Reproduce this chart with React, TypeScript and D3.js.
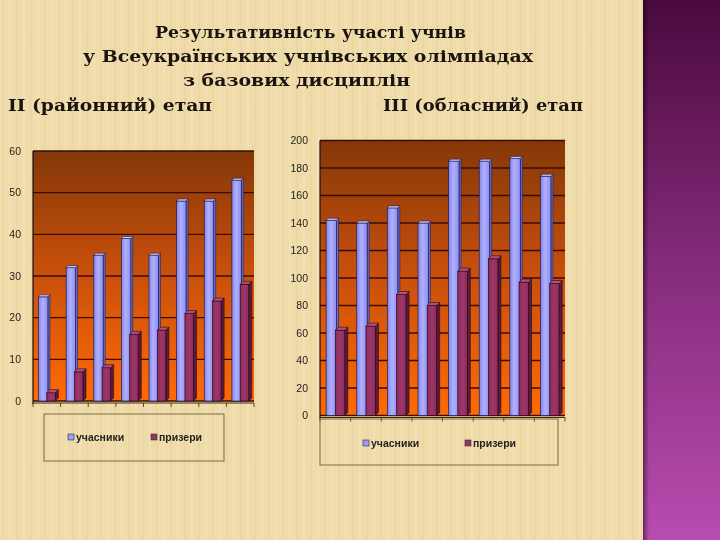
import React from "react";
import * as d3 from "d3";

const categories = ["1", "2", "3", "4", "5", "6", "7", "8"];
const leftParticipants = [25, 32, 35, 39, 35, 48, 48, 53];
const leftWinners = [2, 7, 8, 16, 17, 21, 24, 28];
const rightParticipants = [142, 140, 151, 140, 185, 185, 187, 174];
const rightWinners = [62, 65, 88, 80, 105, 114, 97, 96];
const leftTicks = [0, 10, 20, 30, 40, 50, 60];
const rightTicks = [0, 20, 40, 60, 80, 100, 120, 140, 160, 180, 200];
const seriesNames = ["учасники", "призери"];
const titleLines = [
  "Результативність участі учнів",
  "у Всеукраїнських учнівських олімпіадах",
  "з базових дисциплін",
];
const stageLabels = ["II (районний) етап", "III (обласний) етап"];

type ChartProps = {
  id: string;
  a: number[];
  b: number[];
  ticks: number[];
  max: number;
  left: number;
  right: number;
  top: number;
  bottom: number;
  legend: { x: number; y: number; w: number; h: number; t1: number; t2: number; ty: number };
};

function Bar3D({ x, w, y0, y1, d, side, topC, stroke, grad }: any) {
  return (
    <g>
      <polygon
        points={`${x + w},${y1} ${x + w + d},${y1 - d} ${x + w + d},${y0 - d} ${x + w},${y0}`}
        fill={side}
        stroke={stroke}
        strokeWidth={0.6}
      />
      <rect x={x} y={y1} width={w} height={Math.max(0, y0 - y1)} fill={grad} stroke={stroke} strokeWidth={0.7} />
      <polygon
        points={`${x},${y1} ${x + d},${y1 - d} ${x + w + d},${y1 - d} ${x + w},${y1}`}
        fill={topC}
        stroke={stroke}
        strokeWidth={0.6}
      />
    </g>
  );
}

function Chart({ id, a, b, ticks, max, left, right, top, bottom, legend }: ChartProps) {
  const y = d3.scaleLinear().domain([0, max]).range([bottom, top]);
  const x = d3.scaleBand<string>().domain(categories).range([left, right]).padding(0);
  const bw = x.bandwidth();
  return (
    <g>
      <rect x={left} y={top} width={right - left} height={bottom - top} fill={`url(#wall-${id})`} />
      {ticks.map((t) => (
        <line key={t} x1={left} x2={right} y1={y(t)} y2={y(t)} stroke="#3a0c00" strokeWidth={1.4} />
      ))}
      <line x1={left} x2={left} y1={top} y2={bottom + 3} stroke="#111" strokeWidth={1.2} />
      {categories.map((c, i) => {
        const x0 = x(c) as number;
        return (
          <g key={c}>
            <Bar3D
              x={x0 + bw * 0.2}
              w={bw * 0.34}
              y0={y(0)}
              y1={y(a[i])}
              d={2}
              side="#6f6fcc"
              topC="#d0d0ff"
              stroke="#1c1c55"
              grad="url(#blueGrad)"
            />
            <Bar3D
              x={x0 + bw * 0.5}
              w={bw * 0.31}
              y0={y(0)}
              y1={y(b[i])}
              d={3}
              side="#5e1a3c"
              topC="#b4507e"
              stroke="#2a0818"
              grad="url(#purpleGrad)"
            />
          </g>
        );
      })}
      <line x1={left} x2={right} y1={bottom + 2} y2={bottom + 2} stroke="#3a2a10" strokeWidth={1} />
      {d3.range(categories.length + 1).map((i) => (
        <line
          key={i}
          x1={left + i * bw}
          x2={left + i * bw}
          y1={bottom + 2}
          y2={bottom + 6}
          stroke="#3a2a10"
          strokeWidth={0.8}
        />
      ))}
      {ticks.map((t) => (
        <text
          key={t}
          x={left - 12}
          y={y(t)}
          dy="0.35em"
          textAnchor="end"
          fontFamily="Arial, 'Liberation Sans', sans-serif"
          fontSize={10.5}
          fill="#222"
        >
          {t}
        </text>
      ))}
      <rect x={legend.x} y={legend.y} width={legend.w} height={legend.h} fill="none" stroke="#7a6a45" strokeWidth={1} />
      <rect x={legend.t1 - 8} y={legend.ty - 7} width={6} height={6} fill="#9999ff" stroke="#333" strokeWidth={0.6} />
      <text x={legend.t1} y={legend.ty} fontFamily="Arial, 'Liberation Sans', sans-serif" fontWeight="bold" fontSize={10.5} fill="#222">
        {seriesNames[0]}
      </text>
      <rect x={legend.t2 - 8} y={legend.ty - 7} width={6} height={6} fill="#993366" stroke="#333" strokeWidth={0.6} />
      <text x={legend.t2} y={legend.ty} fontFamily="Arial, 'Liberation Sans', sans-serif" fontWeight="bold" fontSize={10.5} fill="#222">
        {seriesNames[1]}
      </text>
    </g>
  );
}

export default function App() {
  const serif = "'DejaVu Serif', 'Liberation Serif', serif";
  return (
    <svg width={720} height={540} style={{ position: "fixed", left: 0, top: 0 }}>
      <defs>
        <pattern id="paper" width="14" height="9" patternUnits="userSpaceOnUse">
          <rect width="14" height="9" fill="#efdcaa" />
          <line x1="3" y1="0" x2="3" y2="9" stroke="#e2cc94" strokeWidth="1" opacity="0.6" />
          <line x1="10" y1="0" x2="10" y2="9" stroke="#f6e8c0" strokeWidth="1" opacity="0.7" />
          <line x1="0" y1="4" x2="14" y2="4" stroke="#e6d29e" strokeWidth="0.6" opacity="0.5" />
        </pattern>
        <linearGradient id="strip" x1="0" y1="0" x2="0" y2="1">
          <stop offset="0" stopColor="#4a0a3e" />
          <stop offset="0.5" stopColor="#862c7c" />
          <stop offset="1" stopColor="#b84cb0" />
        </linearGradient>
        <linearGradient id="stripEdge" x1="0" y1="0" x2="1" y2="0">
          <stop offset="0" stopColor="#000" stopOpacity="0.45" />
          <stop offset="1" stopColor="#000" stopOpacity="0" />
        </linearGradient>
        {["l", "r"].map((k) => (
          <linearGradient key={k} id={`wall-${k}`} x1="0" y1="0" x2="0" y2="1">
            <stop offset="0" stopColor="#843808" />
            <stop offset="0.45" stopColor="#c44e0c" />
            <stop offset="1" stopColor="#ff6a04" />
          </linearGradient>
        ))}
        <linearGradient id="blueGrad" x1="0" y1="0" x2="1" y2="0">
          <stop offset="0" stopColor="#8686ea" />
          <stop offset="0.45" stopColor="#b0b0ff" />
          <stop offset="1" stopColor="#8c8cf0" />
        </linearGradient>
        <linearGradient id="purpleGrad" x1="0" y1="0" x2="1" y2="0">
          <stop offset="0" stopColor="#8a2c5c" />
          <stop offset="0.5" stopColor="#9e3669" />
          <stop offset="1" stopColor="#8a2c5c" />
        </linearGradient>
      </defs>
      <rect x={0} y={0} width={720} height={540} fill="url(#paper)" />
      <rect x={643} y={0} width={77} height={540} fill="url(#strip)" />
      <rect x={643} y={0} width={6} height={540} fill="url(#stripEdge)" />

      <g fontFamily={serif} fontWeight="bold" fill="#1a1410">
        <text x={155} y={38} fontSize={17} textLength={311} lengthAdjust="spacingAndGlyphs">
          {titleLines[0]}
        </text>
        <text x={83} y={62} fontSize={17} textLength={450} lengthAdjust="spacingAndGlyphs">
          {titleLines[1]}
        </text>
        <text x={183} y={86} fontSize={17} textLength={227} lengthAdjust="spacingAndGlyphs">
          {titleLines[2]}
        </text>
        <text x={8} y={111} fontSize={17} textLength={204} lengthAdjust="spacingAndGlyphs">
          {stageLabels[0]}
        </text>
        <text x={383} y={111} fontSize={17} textLength={200} lengthAdjust="spacingAndGlyphs">
          {stageLabels[1]}
        </text>
      </g>

      <Chart
        id="l"
        a={leftParticipants}
        b={leftWinners}
        ticks={leftTicks}
        max={60}
        left={33}
        right={254}
        top={151}
        bottom={401}
        legend={{ x: 44, y: 414, w: 180, h: 47, t1: 76, t2: 159, ty: 441 }}
      />
      <Chart
        id="r"
        a={rightParticipants}
        b={rightWinners}
        ticks={rightTicks}
        max={200}
        left={320}
        right={565}
        top={140.5}
        bottom={415.5}
        legend={{ x: 320, y: 419, w: 238, h: 46, t1: 371, t2: 473, ty: 447 }}
      />
    </svg>
  );
}
